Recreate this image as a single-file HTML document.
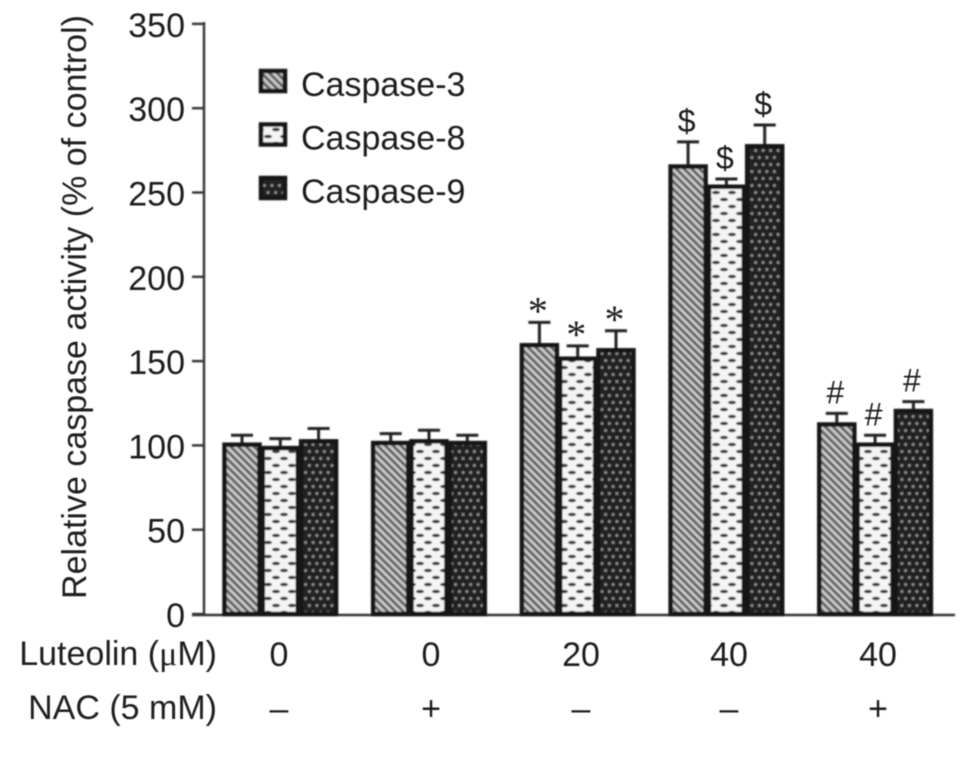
<!DOCTYPE html>
<html>
<head>
<meta charset="utf-8">
<style>
html,body{margin:0;padding:0;background:#fff;}
#wrap{position:relative;width:969px;height:771px;overflow:hidden;}
svg{display:block;}
text{font-family:"Liberation Sans",sans-serif;fill:#1f1f1f;}
</style>
</head>
<body>
<div id="wrap">
<svg id="chart" width="969" height="771" viewBox="0 0 969 771" xmlns="http://www.w3.org/2000/svg">
<defs>
<filter id="soft" x="-5%" y="-5%" width="110%" height="110%"><feGaussianBlur stdDeviation="0.8"/></filter>
<filter id="softText" x="-5%" y="-5%" width="110%" height="110%"><feGaussianBlur stdDeviation="0.5"/></filter>
<pattern id="p-c3" width="5.5" height="5.5" patternUnits="userSpaceOnUse" patternTransform="rotate(-45)">
<rect width="5.5" height="5.5" fill="#c8c8c8"/><rect width="2.6" height="5.5" fill="#5c5c5c"/>
</pattern>
<pattern id="p-c8" width="16" height="14" patternUnits="userSpaceOnUse">
<rect width="16" height="14" fill="#f4f4f4"/>
<ellipse cx="4" cy="3.5" rx="4" ry="1.8" fill="#3a3a3a"/>
<ellipse cx="12" cy="10.5" rx="4" ry="1.8" fill="#3a3a3a"/>
</pattern>
<pattern id="p-c9" width="7.5" height="14" patternUnits="userSpaceOnUse">
<rect width="7.5" height="14" fill="#222"/>
<circle cx="1.9" cy="3.5" r="1.5" fill="#8a8a8a"/>
<circle cx="5.6" cy="10.5" r="1.5" fill="#8a8a8a"/>
</pattern>
</defs>
<g id="marks" filter="url(#soft)"></g>
<g id="labels" filter="url(#softText)"></g>
</svg>
<div style="position:absolute;left:0;top:0;width:969px;height:771px;pointer-events:none;font-family:'Liberation Sans',sans-serif;color:#1f1f1f;font-size:34px;line-height:1;filter:blur(0.5px);">
<div style="position:absolute;right:752px;top:637px;white-space:nowrap;">Luteolin (<span style="font-family:'Liberation Serif',serif;">&mu;</span>M)</div>
<div style="position:absolute;right:752px;top:691px;white-space:nowrap;">NAC (5 mM)</div>
<div style="position:absolute;left:75px;top:307px;white-space:nowrap;transform:translate(-50%,-50%) rotate(-90deg);">Relative caspase activity (% of control)</div>
</div>
</div>
<script>
var groupLabels = ["0", "0", "20", "40", "40"];
var nacLabels = ["\u2013", "+", "\u2013", "\u2013", "+"];
var seriesNames = ["Caspase-3", "Caspase-8", "Caspase-9"];
var caspase3 = [101, 102, 160, 266, 113];
var caspase8 = [99, 103, 152, 254, 101];
var caspase9 = [103, 102, 157, 278, 121];
var caspase3Err = [5, 5, 13, 14, 6];
var caspase8Err = [5, 6, 7, 4, 5];
var caspase9Err = [7, 4, 11, 12, 5];
var caspase3Sig = ["", "", "*", "$", "#"];
var caspase8Sig = ["", "", "*", "$", "#"];
var caspase9Sig = ["", "", "*", "$", "#"];
var yTicks = [0, 50, 100, 150, 200, 250, 300, 350];

var NS = "http://www.w3.org/2000/svg";
var marks = document.getElementById("marks");
var labels = document.getElementById("labels");
function make(parent, tag, attrs) {
  var el = document.createElementNS(NS, tag);
  for (var k in attrs) el.setAttribute(k, attrs[k]);
  parent.appendChild(el);
  return el;
}
function yScale(v) { return 614 - v * 1.686; }
function groupLeft(i) { return 224.5 + i * 148.7; }
function barX(i, s) { return groupLeft(i) + s * 38.3; }
var barW = 35;
var fills = ["url(#p-c3)", "url(#p-c8)", "url(#p-c9)"];
var values = [caspase3, caspase8, caspase9];
var errors = [caspase3Err, caspase8Err, caspase9Err];
var sigs = [caspase3Sig, caspase8Sig, caspase9Sig];
var keys = ["caspase-3", "caspase-8", "caspase-9"];
var ink = "#161616";

var yAxis = make(marks, "line", {x1: 204, y1: 22, x2: 204, y2: 615, stroke: "#333", "stroke-width": 2.4});


var xAxis = make(marks, "line", {x1: 192, y1: 615, x2: 955, y2: 615, stroke: "#333", "stroke-width": 2.4});



yTicks.forEach(function (t) {
  var y = yScale(t);
  var tick = make(marks, "line", {x1: 192, y1: y, x2: 204, y2: y, stroke: "#333", "stroke-width": 2.4});
  
  
  var lab = make(labels, "text", {x: 185, y: y + 13, "text-anchor": "end", "font-size": 34});
  lab.textContent = t;
  
  
});

values.forEach(function (vals, s) {
  vals.forEach(function (v, i) {
    var x = barX(i, s), y = yScale(v) + 1, cx = x + barW / 2, top = yScale(v + errors[s][i]);
    var eb = make(marks, "path", {
      d: "M" + cx + " " + y + "V" + top + "M" + (cx - 11) + " " + top + "H" + (cx + 11),
      stroke: "#222", "stroke-width": 3, fill: "none"
    });
    
    
    var r = make(marks, "rect", {
      x: x, y: y, width: barW, height: 614 - y,
      fill: fills[s], stroke: ink, "stroke-width": 4.5
    });
    
    
    if (sigs[s][i]) {
      var star = sigs[s][i] === "*";
      var sig = make(labels, "text", {
        x: cx - 1.5, y: star ? top + 2 : top - 10, "text-anchor": "middle",
        "font-size": star ? 40 : 32
      });
      if (star) sig.style.fontFamily = '"Liberation Serif", serif';
      sig.textContent = sigs[s][i];
      
      
    }
  });
});

seriesNames.forEach(function (name, s) {
  var y = 84 + s * 53.5;
  var sw = make(marks, "rect", {x: 261, y: y - 13, width: 24, height: 20, fill: fills[s], stroke: ink, "stroke-width": 4.5});
  
  
  var lab = make(labels, "text", {x: 301, y: y + 12, "font-size": 34});
  lab.textContent = name;
  
  
});

var xCenters = [279, 431, 581, 729, 878];
groupLabels.forEach(function (g, i) {
  var lab = make(labels, "text", {x: xCenters[i], y: 666, "text-anchor": "middle", "font-size": 34});
  lab.textContent = g;
  
  
  var nac = make(labels, "text", {x: xCenters[i], y: 720, "text-anchor": "middle", "font-size": 34});
  nac.textContent = nacLabels[i];
  
  
});
</script>
</body>
</html>
